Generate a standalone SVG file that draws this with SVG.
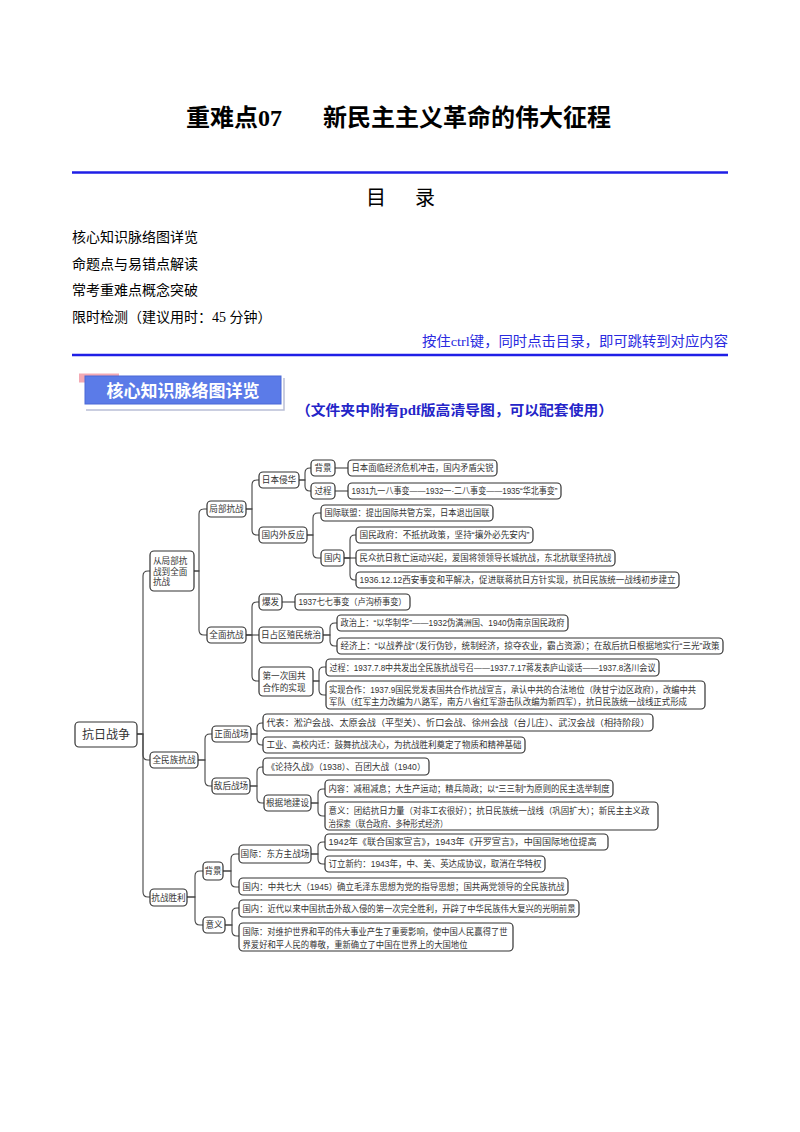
<svg xmlns="http://www.w3.org/2000/svg" width="800" height="1132" viewBox="0 0 800 1132">
<style>
.bg{fill:#fff}
.title{font-family:"Liberation Serif","Noto Sans CJK SC",serif;font-size:24px;font-weight:bold;fill:#000}
.toc{font-family:"Liberation Serif","Noto Sans CJK SC",sans-serif;font-size:14px;fill:#000}
.note{font-family:"Liberation Serif","Noto Sans CJK SC",serif;font-size:13.5px;fill:#2a2ae0}
.sub{font-family:"Liberation Serif","Noto Sans CJK SC",serif;font-size:14px;font-weight:bold;fill:#2424c8}
.rule{stroke:#1f1fe6;stroke-width:2.5}
.box{fill:#fff;stroke:#333;stroke-width:1.2}
.t{font-family:"Liberation Sans","Noto Sans CJK SC",sans-serif;font-size:8.6px;fill:#333}
.m{text-anchor:middle}
.c{fill:none;stroke:#444;stroke-width:1.1}
</style>
<rect class="bg" x="0" y="0" width="800" height="1132"/>

<g id="header">
<text class="title" x="186" y="126">重难点07<tspan x="323">新民主主义革命的伟大征程</tspan></text>
<line class="rule" x1="72" y1="172.5" x2="728" y2="172.5"/>
<text x="366" y="205" style="font-family:'Noto Sans CJK SC',sans-serif;font-size:20px;letter-spacing:4.5px;fill:#000">目　录</text>
<text class="toc" x="72" y="242">核心知识脉络图详览</text>
<text class="toc" x="72" y="268.5">命题点与易错点解读</text>
<text class="toc" x="72" y="295">常考重难点概念突破</text>
<text class="toc" x="72" y="321.5">限时检测（建议用时：45 分钟）</text>
<text class="note" x="728" y="346" text-anchor="end" textLength="306" lengthAdjust="spacingAndGlyphs">按住ctrl键，同时点击目录，即可跳转到对应内容</text>
<line class="rule" x1="72" y1="355" x2="728" y2="355"/>
</g>

<g id="banner">
<rect x="79" y="373.5" width="40" height="9" fill="#f3a9b3"/>
<polyline points="284,378 284,410 86,410" fill="none" stroke="#b9bfd6" stroke-width="1.5"/>
<rect x="85" y="376" width="196" height="28" fill="#5b7be8" stroke="#4a68d6" stroke-width="1"/>
<text x="183" y="397" text-anchor="middle" style="font-family:'Noto Sans CJK SC',sans-serif;font-size:17px;font-weight:bold;fill:#fff">核心知识脉络图详览</text>
<text class="sub" x="296" y="415" textLength="317" lengthAdjust="spacingAndGlyphs">（文件夹中附有pdf版高清导图，可以配套使用）</text>
</g>

<g id="connectors">
<path class="c" d="M137,734H143V576Q143,571 148,571H150"/>
<path class="c" d="M137,734H143V755Q143,760 148,760H150"/>
<path class="c" d="M137,734H143V892Q143,897 148,897H150"/>
<path class="c" d="M194,571H199V514Q199,509 204,509H207"/>
<path class="c" d="M194,571H199V630Q199,635 204,635H207"/>
<path class="c" d="M246,509H252V485Q252,480 257,480H259"/>
<path class="c" d="M246,509H252V530Q252,535 257,535H259"/>
<path class="c" d="M299,480H305V473Q305,468 310,468H311"/>
<path class="c" d="M299,480H305V486Q305,491 310,491H311"/>
<path class="c" d="M335,468H348"/>
<path class="c" d="M335,491H348"/>
<path class="c" d="M307,535H313V518Q313,513 318,513H321"/>
<path class="c" d="M307,535H313V553Q313,558 318,558H321"/>
<path class="c" d="M344,558H350V540Q350,535 355,535H356"/>
<path class="c" d="M344,558H356"/>
<path class="c" d="M344,558H350V575Q350,580 355,580H356"/>
<path class="c" d="M246,635H252V607Q252,602 257,602H259"/>
<path class="c" d="M246,635H259"/>
<path class="c" d="M246,635H252V676Q252,681 257,681H259"/>
<path class="c" d="M282,602H295"/>
<path class="c" d="M323,635H330V628Q330,623 335,623H337"/>
<path class="c" d="M323,635H330V641Q330,646 335,646H337"/>
<path class="c" d="M313,681H319V672Q319,667 324,667H326"/>
<path class="c" d="M313,681H319V690Q319,695 324,695H326"/>
<path class="c" d="M198,760H205V739Q205,734 210,734H212"/>
<path class="c" d="M198,760H205V781Q205,786 210,786H212"/>
<path class="c" d="M251,734H257V728Q257,723 262,723H263"/>
<path class="c" d="M251,734H257V740Q257,745 262,745H263"/>
<path class="c" d="M250,786H257V772Q257,767 262,767H263"/>
<path class="c" d="M250,786H257V798Q257,803 262,803H264"/>
<path class="c" d="M311,803H318V794Q318,789 323,789H325"/>
<path class="c" d="M311,803H318V811Q318,816 323,816H325"/>
<path class="c" d="M187,897H195V876Q195,871 200,871H203"/>
<path class="c" d="M187,897H195V920Q195,925 200,925H203"/>
<path class="c" d="M223,871H231V859Q231,854 236,854H239"/>
<path class="c" d="M223,871H231V882Q231,887 236,887H239"/>
<path class="c" d="M311,854H318V847Q318,842 323,842H325"/>
<path class="c" d="M311,854H318V859Q318,864 323,864H325"/>
<path class="c" d="M225,925H232V913Q232,908 237,908H239"/>
<path class="c" d="M225,925H232V931Q232,936 237,936H239"/>
</g>

<g id="root"><rect class="box" x="75" y="722" width="62" height="25" rx="4" stroke-width="1.5"/><text class="t m" x="106" y="738.5" style="font-size:12px">抗日战争</text></g>

<g id="n1"><rect class="box" x="150" y="551" width="44" height="40" rx="4"/><text class="t" x="153" y="564">从局部抗</text><text class="t" x="153" y="574.7">战到全面</text><text class="t" x="153" y="585.3">抗战</text></g>
<g id="n2"><rect class="box" x="150" y="752" width="48" height="16" rx="4"/><text class="t m" x="174" y="763">全民族抗战</text></g>
<g id="n3"><rect class="box" x="150" y="889" width="37" height="17" rx="4"/><text class="t m" x="168.5" y="900.5">抗战胜利</text></g>

<g id="jubu"><rect class="box" x="207" y="501" width="39" height="16" rx="4"/><text class="t m" x="226.5" y="512">局部抗战</text></g>
<g id="quanmian"><rect class="box" x="207" y="627" width="39" height="16" rx="4"/><text class="t m" x="226.5" y="638">全面抗战</text></g>
<g id="ribenqinhua"><rect class="box" x="259" y="472" width="40" height="16" rx="4"/><text class="t m" x="279" y="483">日本侵华</text></g>
<g id="guoneiwai"><rect class="box" x="259" y="527" width="48" height="16" rx="4"/><text class="t m" x="283" y="538">国内外反应</text></g>
<g id="beijing1"><rect class="box" x="311" y="460" width="24" height="16" rx="4"/><text class="t m" x="323" y="471">背景</text></g>
<g id="guocheng1"><rect class="box" x="311" y="483" width="24" height="16" rx="4"/><text class="t m" x="323" y="494">过程</text></g>
<g id="bj1leaf"><rect class="box" x="348" y="460" width="149" height="16" rx="4"/><text class="t" x="351.5" y="471" textLength="142" lengthAdjust="spacingAndGlyphs">日本面临经济危机冲击，国内矛盾尖锐</text></g>
<g id="gc1leaf"><rect class="box" x="348" y="483" width="213" height="16" rx="4"/><text class="t" x="351.5" y="494" textLength="206" lengthAdjust="spacingAndGlyphs">1931九一八事变——1932一·二八事变——1935“华北事变”</text></g>
<g id="guojilianmeng"><rect class="box" x="321" y="505" width="172" height="16" rx="4"/><text class="t" x="324.5" y="516" textLength="165" lengthAdjust="spacingAndGlyphs">国际联盟：提出国际共管方案，日本退出国联</text></g>
<g id="guonei1"><rect class="box" x="321" y="550" width="23" height="16" rx="4"/><text class="t m" x="332.5" y="561">国内</text></g>
<g id="guominzhengfu"><rect class="box" x="356" y="527" width="177" height="16" rx="4"/><text class="t" x="359.5" y="538" textLength="170" lengthAdjust="spacingAndGlyphs">国民政府：不抵抗政策，坚持“攘外必先安内”</text></g>
<g id="minzhong"><rect class="box" x="356" y="550" width="259" height="16" rx="4"/><text class="t" x="359.5" y="561" textLength="252" lengthAdjust="spacingAndGlyphs">民众抗日救亡运动兴起，爱国将领领导长城抗战，东北抗联坚持抗战</text></g>
<g id="xian"><rect class="box" x="356" y="572" width="323" height="16" rx="4"/><text class="t" x="359.5" y="583" textLength="316" lengthAdjust="spacingAndGlyphs">1936.12.12西安事变和平解决，促进联蒋抗日方针实现，抗日民族统一战线初步建立</text></g>

<g id="baofa"><rect class="box" x="259" y="594" width="23" height="16" rx="4"/><text class="t m" x="270.5" y="605">爆发</text></g>
<g id="baofaleaf"><rect class="box" x="295" y="594" width="115" height="16" rx="4"/><text class="t" x="298.5" y="605" textLength="108" lengthAdjust="spacingAndGlyphs">1937七七事变（卢沟桥事变）</text></g>
<g id="rizhanqu"><rect class="box" x="259" y="627" width="64" height="16" rx="4"/><text class="t m" x="291" y="638">日占区殖民统治</text></g>
<g id="zhengzhi"><rect class="box" x="337" y="615" width="231" height="16" rx="4"/><text class="t" x="340.5" y="626" textLength="224" lengthAdjust="spacingAndGlyphs">政治上：“以华制华”——1932伪满洲国、1940伪南京国民政府</text></g>
<g id="jingji"><rect class="box" x="337" y="638" width="386" height="16" rx="4"/><text class="t" x="340.5" y="649" textLength="379" lengthAdjust="spacingAndGlyphs">经济上：“以战养战”（发行伪钞，统制经济，掠夺农业，霸占资源）；在敌后抗日根据地实行“三光”政策</text></g>
<g id="diyici"><rect class="box" x="259" y="667" width="54" height="29" rx="4"/><text class="t" x="262.5" y="678.5">第一次国共</text><text class="t" x="262.5" y="691">合作的实现</text></g>
<g id="guocheng2"><rect class="box" x="326" y="659" width="333" height="17" rx="4"/><text class="t" x="329.5" y="670.5" textLength="326" lengthAdjust="spacingAndGlyphs">过程：1937.7.8中共发出全民族抗战号召——1937.7.17蒋发表庐山谈话——1937.8洛川会议</text></g>
<g id="shixian"><rect class="box" x="326" y="681" width="379" height="28" rx="4"/><text class="t" x="329" y="693" textLength="367" lengthAdjust="spacingAndGlyphs">实现合作：1937.9国民党发表国共合作抗战宣言，承认中共的合法地位（陕甘宁边区政府），改编中共</text><text class="t" x="329" y="705" textLength="358" lengthAdjust="spacingAndGlyphs">军队（红军主力改编为八路军，南方八省红军游击队改编为新四军），抗日民族统一战线正式形成</text></g>

<g id="zhengmian"><rect class="box" x="212" y="726" width="39" height="16" rx="4"/><text class="t m" x="231.5" y="737">正面战场</text></g>
<g id="dihou"><rect class="box" x="212" y="778" width="38" height="16" rx="4"/><text class="t m" x="231" y="789">敌后战场</text></g>
<g id="daibiao"><rect class="box" x="263" y="714" width="390" height="17" rx="4"/><text class="t" x="266.5" y="725.5" textLength="383" lengthAdjust="spacingAndGlyphs">代表：淞沪会战、太原会战（平型关）、忻口会战、徐州会战（台儿庄）、武汉会战（相持阶段）</text></g>
<g id="neiqian"><rect class="box" x="263" y="737" width="262" height="16" rx="4"/><text class="t" x="266.5" y="748" textLength="255" lengthAdjust="spacingAndGlyphs">工业、高校内迁：鼓舞抗战决心，为抗战胜利奠定了物质和精神基础</text></g>
<g id="lunchijiu"><rect class="box" x="263" y="758" width="166" height="17" rx="4"/><text class="t" x="266.5" y="769.5" textLength="159" lengthAdjust="spacingAndGlyphs">《论持久战》（1938）、百团大战（1940）</text></g>
<g id="genjudi"><rect class="box" x="264" y="795" width="47" height="16" rx="4"/><text class="t m" x="287.5" y="806">根据地建设</text></g>
<g id="neirong"><rect class="box" x="325" y="780" width="288" height="17" rx="4"/><text class="t" x="328.5" y="791.5" textLength="281" lengthAdjust="spacingAndGlyphs">内容：减租减息；大生产运动；精兵简政；以“三三制”为原则的民主选举制度</text></g>
<g id="yiyi1"><rect class="box" x="325" y="802" width="333" height="28" rx="4"/><text class="t" x="328.5" y="814" textLength="321" lengthAdjust="spacingAndGlyphs">意义：团结抗日力量（对非工农很好）；抗日民族统一战线（巩固扩大）；新民主主义政</text><text class="t" x="328.5" y="826.5" textLength="119" lengthAdjust="spacingAndGlyphs">治探索（联合政府、多种形式经济）</text></g>

<g id="beijing2"><rect class="box" x="203" y="862" width="20" height="18" rx="4"/><text class="t m" x="213" y="874">背景</text></g>
<g id="yiyi2"><rect class="box" x="203" y="917" width="22" height="16" rx="4"/><text class="t m" x="214" y="928">意义</text></g>
<g id="dongfang"><rect class="box" x="239" y="845" width="72" height="18" rx="4"/><text class="t m" x="275" y="857">国际：东方主战场</text></g>
<g id="qida"><rect class="box" x="239" y="878" width="329" height="17" rx="4"/><text class="t" x="242.5" y="889.5" textLength="322" lengthAdjust="spacingAndGlyphs">国内：中共七大（1945）确立毛泽东思想为党的指导思想；国共两党领导的全民族抗战</text></g>
<g id="xuanyan"><rect class="box" x="325" y="834" width="283" height="16" rx="4"/><text class="t" x="328.5" y="845" textLength="268" lengthAdjust="spacingAndGlyphs">1942年《联合国家宣言》，1943年《开罗宣言》，中国国际地位提高</text></g>
<g id="xinyue"><rect class="box" x="325" y="856" width="220" height="16" rx="4"/><text class="t" x="328.5" y="867" textLength="213" lengthAdjust="spacingAndGlyphs">订立新约：1943年，中、美、英达成协议，取消在华特权</text></g>
<g id="guoneiyiyi"><rect class="box" x="239" y="900" width="340" height="17" rx="4"/><text class="t" x="242.5" y="911.5" textLength="333" lengthAdjust="spacingAndGlyphs">国内：近代以来中国抗击外敌入侵的第一次完全胜利，开辟了中华民族伟大复兴的光明前景</text></g>
<g id="guojiyiyi"><rect class="box" x="239" y="923" width="274" height="28" rx="4"/><text class="t" x="242.5" y="935" textLength="265" lengthAdjust="spacingAndGlyphs">国际：对维护世界和平的伟大事业产生了重要影响，使中国人民赢得了世</text><text class="t" x="242.5" y="947.5" textLength="225" lengthAdjust="spacingAndGlyphs">界爱好和平人民的尊敬，重新确立了中国在世界上的大国地位</text></g>
</svg>
